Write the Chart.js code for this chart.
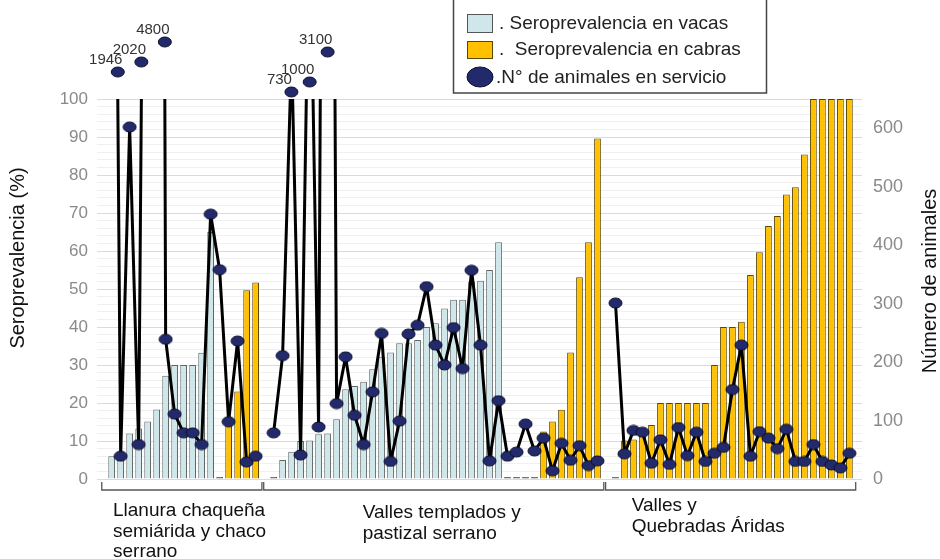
<!DOCTYPE html>
<html>
<head>
<meta charset="utf-8">
<script src="https://cdn.jsdelivr.net/npm/chart.js@4.4.0/dist/chart.umd.min.js"></script>
<style>
  html, body { margin: 0; padding: 0; background: #fff; }
</style>
</head>
<body>
<canvas id="mycanvas" width="940" height="559"></canvas>
<script>
// one slot per herd, 83 slots, gaps between regions are null
var vacas = [6.0, 7.0, 12.0, 13.3, 15.1, 18.3, 27.2, 30, 30, 30, 33.2, 65, 0,
  null, null, null, null,
  null,
  0, 5.0, 7.2, 10.0, 10.1, 11.8, 12.0, 15.7, 23.6, 24.5, 25.6, 28.9, 32.2, 33.3,
  35.7, 35.7, 36.6, 40.0, 41.0, 44.9, 47.2, 47.2, 52.0, 52.2, 55.0, 62.3, 0, 0, 0, 0,
  null, null, null, null, null, null, null,
  null,
  0, null, null, null, null, null, null, null, null, null, null, null, null, null,
  null, null, null, null, null, null, null, null, null, null, null, null, null];

var cabras = [null, null, null, null, null, null, null, null, null, null, null, null, null,
  14, 23, 49.7, 51.7,
  null,
  null, null, null, null, null, null, null, null, null, null, null, null, null, null,
  null, null, null, null, null, null, null, null, null, null, null, null, null, null, null, null,
  12.5, 15.1, 18.2, 33.3, 53.1, 62.3, 89.6,
  null,
  null, 10.1, 10.4, 12.5, 14.2, 20, 20, 20, 20, 20, 20, 30, 40, 40, 41.4, 53.7, 59.7,
  66.6, 69.2, 74.9, 76.8, 85.4, 100, 100, 100, 100, 100];

var animales = [1946, 39, 602, 59, 2020, 4800, 239, 111, 79, 79, 59, 453, 358, 98, 236, 29, 39,
  null,
  79, 211, 730, 41, 1000, 89, 3100, 129, 209, 109, 59, 149, 249, 30, 99, 248, 263, 329,
  229, 195, 259, 189, 357, 229, 31, 134, 39, 46, 94, 48, 70, 14, 61, 32, 57, 23, 31,
  null,
  301, 43, 83, 80, 27, 67, 25, 88, 40, 80, 30, 44, 54, 153, 229, 39, 81, 70, 52, 85,
  30, 30, 59, 30, 24, 19, 44];

var regiones = [
  ['Llanura chaqueña', 'semiárida y chaco', 'serrano'],
  ['Valles templados y', 'pastizal serrano'],
  ['Valles y', 'Quebradas Áridas']
];
var regionDesde = [0, 18, 56];
var regionHasta = [16, 54, 82];

var posiciones = vacas.map(function(v, i) { return i; });

var FONT = '"Liberation Sans", Arial, sans-serif';
var colorVaca = '#cfe7ea';
var colorCabra = '#ffc000';
var colorPunto = '#232a6b';

// elliptical marker used for the points
var punto = document.createElement('canvas');
punto.width = 15; punto.height = 12;
(function() {
  var c = punto.getContext('2d');
  c.beginPath();
  c.ellipse(7.5, 6, 6.5, 5, 0, 0, Math.PI * 2);
  c.fillStyle = colorPunto;
  c.fill();
  c.lineWidth = 1;
  c.strokeStyle = '#0c0f2e';
  c.stroke();
})();

function elipse(ctx, x, y, rx, ry) {
  ctx.beginPath();
  ctx.ellipse(x, y, rx, ry, 0, 0, Math.PI * 2);
  ctx.fillStyle = colorPunto;
  ctx.fill();
  ctx.lineWidth = 1;
  ctx.strokeStyle = '#0c0f2e';
  ctx.stroke();
}

var extras = {
  id: 'extras',
  afterDraw: function(chart) {
    var ctx = chart.ctx, area = chart.chartArea, xs = chart.scales.x, y1 = chart.scales.y1;
    ctx.save();

    // axis titles
    ctx.fillStyle = '#111';
    ctx.font = '20px ' + FONT;
    ctx.textAlign = 'center';
    ctx.textBaseline = 'middle';
    ctx.save();
    ctx.translate(18, area.top + 159);
    ctx.rotate(-Math.PI / 2);
    ctx.fillText('Seroprevalencia (%)', 0, 0);
    ctx.restore();
    ctx.save();
    ctx.translate(930, area.top + 182);
    ctx.rotate(-Math.PI / 2);
    ctx.fillText('Número de animales', 0, 0);
    ctx.restore();

    // region brackets and names
    var etiquetaEn = [0.15, 27.9, 57.8];
    var etiquetaY = [32, 34, 27];
    ctx.strokeStyle = '#555';
    ctx.lineWidth = 1.3;
    ctx.font = '19px ' + FONT;
    ctx.textAlign = 'left';
    ctx.fillStyle = '#111';
    regiones.forEach(function(lineas, r) {
      var x0 = xs.getPixelForValue(regionDesde[r] - 1.1);
      var x1 = xs.getPixelForValue(regionHasta[r] + 0.7);
      var b = area.bottom;
      ctx.beginPath();
      ctx.moveTo(x0, b + 3);
      ctx.lineTo(x0, b + 11);
      ctx.lineTo(x1, b + 11);
      ctx.lineTo(x1, b + 3);
      ctx.stroke();
      var lx = xs.getPixelForValue(etiquetaEn[r]);
      lineas.forEach(function(t, k) {
        ctx.fillText(t, lx, b + etiquetaY[r] + k * 20.5);
      });
    });

    // off-scale herds: marker above the plot where the line leaves it,
    // stacked higher the larger the herd
    var meta = chart.getDatasetMeta(2);
    var maxV = y1.max;
    var fuera = animales.filter(function(v) { return v !== null && v > maxV; })
      .sort(function(a, b) { return a - b; });
    ctx.font = '15px ' + FONT;
    ctx.textAlign = 'center';
    animales.forEach(function(v, i) {
      if (v === null || v <= maxV) return;
      var p = meta.data[i];
      var cruces = [];
      [i - 1, i + 1].forEach(function(j) {
        var w = animales[j];
        if (w === null || w === undefined || w > maxV) return;
        var q = meta.data[j];
        cruces.push(q.x + (p.x - q.x) * (q.y - area.top) / (q.y - p.y));
      });
      var mx = cruces.length ? cruces.reduce(function(a, b) { return a + b; }) / cruces.length : p.x;
      var my = area.top - 7 - 10 * fuera.indexOf(v);
      elipse(ctx, mx, my, 6.5, 5);
      ctx.fillStyle = '#333';
      ctx.fillText(String(v), mx - 12, my - 12);
    });

    // legend box
    ctx.strokeStyle = '#444';
    ctx.lineWidth = 1.5;
    ctx.strokeRect(453.5, -1, 313, 94);
    ctx.lineWidth = 1;
    ctx.fillStyle = colorVaca;
    ctx.fillRect(467, 14, 25, 18);
    ctx.strokeStyle = '#555';
    ctx.strokeRect(467.5, 14.5, 25, 18);
    ctx.fillStyle = colorCabra;
    ctx.fillRect(467, 41, 25, 17);
    ctx.strokeStyle = '#5a4800';
    ctx.strokeRect(467.5, 41.5, 25, 17);
    elipse(ctx, 480, 77, 13, 10);
    ctx.fillStyle = '#222';
    ctx.font = '19px ' + FONT;
    ctx.textAlign = 'left';
    ctx.fillText('. Seroprevalencia en vacas', 499, 24);
    ctx.fillText('.  Seroprevalencia en cabras', 499, 50);
    ctx.fillText('.N° de animales en servicio', 496, 78);

    ctx.restore();
  }
};

var ctx = document.getElementById('mycanvas');

var chart = new Chart(ctx, {
  type: 'bar',
  data: {
    labels: posiciones,
    datasets: [
      {
        label: 'Seroprevalencia en vacas',
        data: vacas,
        backgroundColor: function(c) { return c.raw === 0 ? '#555' : colorVaca; },
        borderColor: function(c) { return c.raw === 0 ? '#555' : '#5f6668'; },
        borderWidth: 1,
        minBarLength: 2,
        grouped: false,
        barPercentage: 0.75,
        categoryPercentage: 1,
        yAxisID: 'y',
        order: 1
      },
      {
        label: 'Seroprevalencia en cabras',
        data: cabras,
        backgroundColor: colorCabra,
        borderColor: '#5a4800',
        borderWidth: 1,
        grouped: false,
        barPercentage: 0.75,
        categoryPercentage: 1,
        yAxisID: 'y',
        order: 1
      },
      {
        type: 'line',
        label: 'N° de animales en servicio',
        data: animales,
        borderColor: '#000',
        borderWidth: 3,
        borderJoinStyle: 'round',
        pointStyle: punto,
        pointRadius: 6,
        spanGaps: false,
        tension: 0,
        yAxisID: 'y1',
        order: 0
      }
    ]
  },
  options: {
    responsive: false,
    animation: false,
    layout: { padding: { top: 99, bottom: 80, left: 0, right: 0 } },
    plugins: {
      legend: { display: false },
      tooltip: { enabled: false }
    },
    scales: {
      x: {
        type: 'linear',
        display: false,
        offset: false,
        min: -1.63,
        max: 83.4
      },
      y: {
        position: 'left',
        min: 0,
        max: 100,
        border: { display: false },
        grid: {
          drawTicks: false,
          color: function(c) { return c.tick.value % 10 === 0 ? '#dadada' : '#f0f0f0'; }
        },
        ticks: {
          stepSize: 2,
          autoSkip: false,
          padding: 9,
          color: '#8a8a8a',
          font: { family: FONT, size: 17 },
          callback: function(v) { return v % 10 === 0 ? v : ''; }
        },
        afterFit: function(s) { s.width = 97; }
      },
      y1: {
        position: 'right',
        min: 0,
        max: 650,
        border: { display: false },
        grid: { drawOnChartArea: false, drawTicks: false },
        ticks: {
          stepSize: 100,
          padding: 11,
          color: '#8a8a8a',
          font: { family: FONT, size: 18 },
          callback: function(v) { return v % 100 === 0 ? v : ''; }
        },
        afterFit: function(s) { s.width = 78; }
      }
    }
  },
  plugins: [extras]
});
</script>
</body>
</html>
